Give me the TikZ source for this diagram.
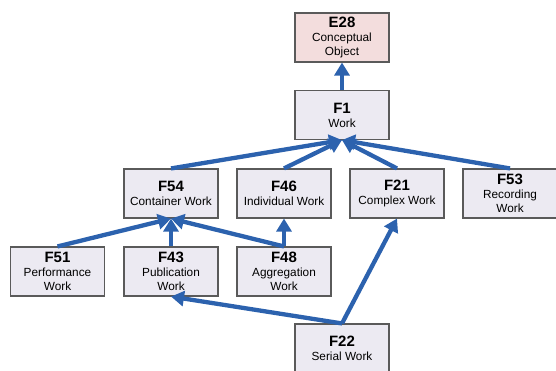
\documentclass[tikz,border=0pt]{standalone}
\usepackage{fontspec}
\setmainfont{Liberation Sans}
\usetikzlibrary{arrows.meta}
\definecolor{linkblue}{RGB}{44,98,174}
\definecolor{boxfill}{RGB}{236,234,242}
\definecolor{rootfill}{RGB}{243,221,221}
\definecolor{boxline}{RGB}{90,90,90}
\newcommand{\cid}[1]{{\fontsize{15}{16}\selectfont\bfseries #1}}
\begin{document}
\begin{tikzpicture}[x=1pt,y=-1pt,
  entity/.style={draw=boxline, line width=1.1pt, fill=boxfill,
    minimum width=94pt, minimum height=49pt, inner sep=0pt,
    align=center, font=\fontsize{11.8}{13.8}\selectfont},
  isa/.style={draw=linkblue, line width=4.3pt,
    -{Triangle[width=15pt,length=13pt]}}]
\useasboundingbox (0,0) rectangle (556,371);

% class boxes
\node[entity, fill=rootfill] (e28) at (342,37.5) {\cid{E28}\\Conceptual\\Object};
\node[entity] (f1)  at (342,115)   {\cid{F1}\\Work};
\node[entity] (f54) at (171,193.5) {\cid{F54}\\Container Work};
\node[entity] (f46) at (284,193.5) {\cid{F46}\\Individual Work};
\node[entity] (f21) at (397,193.5) {\cid{F21}\\Complex Work};
\node[entity] (f53) at (510,193.5) {\cid{F53}\\Recording\\Work};
\node[entity] (f51) at (57.5,271.5) {\cid{F51}\\Performance\\Work};
\node[entity] (f43) at (171,271.5) {\cid{F43}\\Publication\\Work};
\node[entity] (f48) at (284,271.5) {\cid{F48}\\Aggregation\\Work};
\node[entity] (f22) at (342,348.5) {\cid{F22}\\Serial Work};

% subclass links
\draw[isa] (f1.north) -- (e28.south);
\draw[isa] (f54.north) -- (f1.south);
\draw[isa] (f46.north) -- (f1.south);
\draw[isa] (f21.north) -- (f1.south);
\draw[isa] (f53.north) -- (f1.south);
\draw[isa] (f51.north) -- (f54.south);
\draw[isa] (f43.north) -- (f54.south);
\draw[isa] (f48.north) -- (f54.south);
\draw[isa] (f48.north) -- (f46.south);
\draw[isa] (f22.north) -- (f21.south);
\draw[isa] (f22.north) -- (f43.south);
\end{tikzpicture}
\end{document}
